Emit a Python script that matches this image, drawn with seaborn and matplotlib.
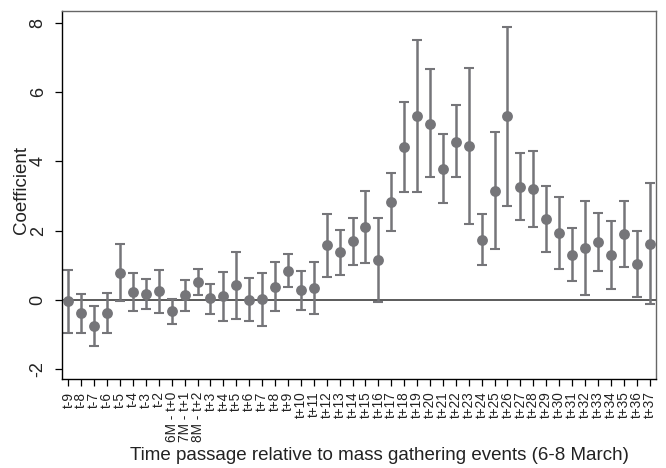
import matplotlib
matplotlib.use("Agg")
import matplotlib.pyplot as plt
import numpy as np
import pandas as pd
import seaborn as sns

terms = (
    [f"t-{i}" for i in range(9, 1, -1)]
    + ["6M - t+0", "7M - t+1", "8M - t+2"]
    + [f"t+{i}" for i in range(3, 38)]
)

coef = [
    -0.04, -0.38, -0.75, -0.37, 0.79, 0.23, 0.17, 0.25,
    -0.32, 0.14, 0.52,
    0.05, 0.11, 0.42, 0.01, 0.04, 0.38, 0.85, 0.29, 0.35, 1.58,
    1.38, 1.70, 2.11, 1.17, 2.83, 4.41, 5.31, 5.09, 3.79, 4.57,
    4.44, 1.74, 3.15, 5.30, 3.27, 3.21, 2.35, 1.93, 1.30, 1.50,
    1.67, 1.29, 1.90, 1.04, 1.61,
]
ci_low = [
    -0.95, -0.95, -1.33, -0.95, -0.03, -0.31, -0.26, -0.36,
    -0.69, -0.31, 0.14,
    -0.40, -0.60, -0.54, -0.59, -0.74, -0.33, 0.37, -0.29, -0.40, 0.66,
    0.73, 1.00, 1.08, -0.05, 1.98, 3.12, 3.13, 3.54, 2.80, 3.54,
    2.19, 1.00, 1.47, 2.70, 2.30, 2.11, 1.40, 0.91, 0.54, 0.14,
    0.83, 0.32, 0.94, 0.10, -0.12,
]
ci_high = [
    0.88, 0.17, -0.18, 0.19, 1.61, 0.77, 0.62, 0.88,
    0.04, 0.59, 0.89,
    0.45, 0.82, 1.38, 0.63, 0.77, 1.09, 1.32, 0.83, 1.10, 2.49,
    2.02, 2.37, 3.16, 2.37, 3.68, 5.70, 7.50, 6.66, 4.78, 5.62,
    6.70, 2.47, 4.84, 7.87, 4.25, 4.30, 3.30, 2.96, 2.07, 2.87,
    2.51, 2.29, 2.87, 1.98, 3.37,
]

GREY = "#757579"

sns.set_theme(style="white")
plt.rcParams["font.family"] = ["Liberation Sans", "DejaVu Sans"]

df = pd.DataFrame({"term": terms, "coef": coef, "lo": ci_low, "hi": ci_high})

fig, ax = plt.subplots(figsize=(6.66, 4.68), dpi=100)
fig.subplots_adjust(left=0.093, right=0.985, top=0.9765, bottom=0.19)

ax.axhline(0, color="#4d4d4d", lw=1.3, zorder=1)

pos = np.arange(len(df))
ax.errorbar(
    pos, df["coef"],
    yerr=[df["coef"] - df["lo"], df["hi"] - df["coef"]],
    fmt="none", ecolor=GREY, elinewidth=1.8, capsize=3.4, capthick=1.5, zorder=2,
)
sns.pointplot(
    data=df, x="term", y="coef", order=terms, errorbar=None,
    color=GREY, linestyle="none", markersize=7.8, markeredgewidth=0, ax=ax, zorder=3,
)

ax.set_xlim(-0.5, len(terms) - 0.5)
ax.set_ylim(-2.28, 8.34)
ax.set_yticks([-2, 0, 2, 4, 6, 8])
ax.set_yticklabels(["-2", "0", "2", "4", "6", "8"], rotation=90, va="center", fontsize=13)
ax.set_xticks(pos)
ax.set_xticklabels(terms, rotation=90, fontsize=9.8)
ax.tick_params(axis="both", which="major", direction="out", length=5, width=0.9,
               color="black", pad=4, bottom=True, left=True)
ax.tick_params(axis="y", pad=6)
for lbl in ax.get_xticklabels() + ax.get_yticklabels():
    lbl.set_color("#222222")

ax.set_xlabel("Time passage relative to mass gathering events (6-8 March)",
              fontsize=13.5, color="#222222")
ax.set_ylabel("Coefficient", fontsize=13.5, color="#222222")
ax.xaxis.set_label_coords(0.535, -0.185)
ax.yaxis.set_label_coords(-0.054, 0.515)

for side in ("left", "bottom"):
    ax.spines[side].set_color("black")
    ax.spines[side].set_linewidth(1.0)
for side in ("top", "right"):
    ax.spines[side].set_color("#666666")
    ax.spines[side].set_linewidth(1.0)

fig.savefig("out.png", dpi=100)
